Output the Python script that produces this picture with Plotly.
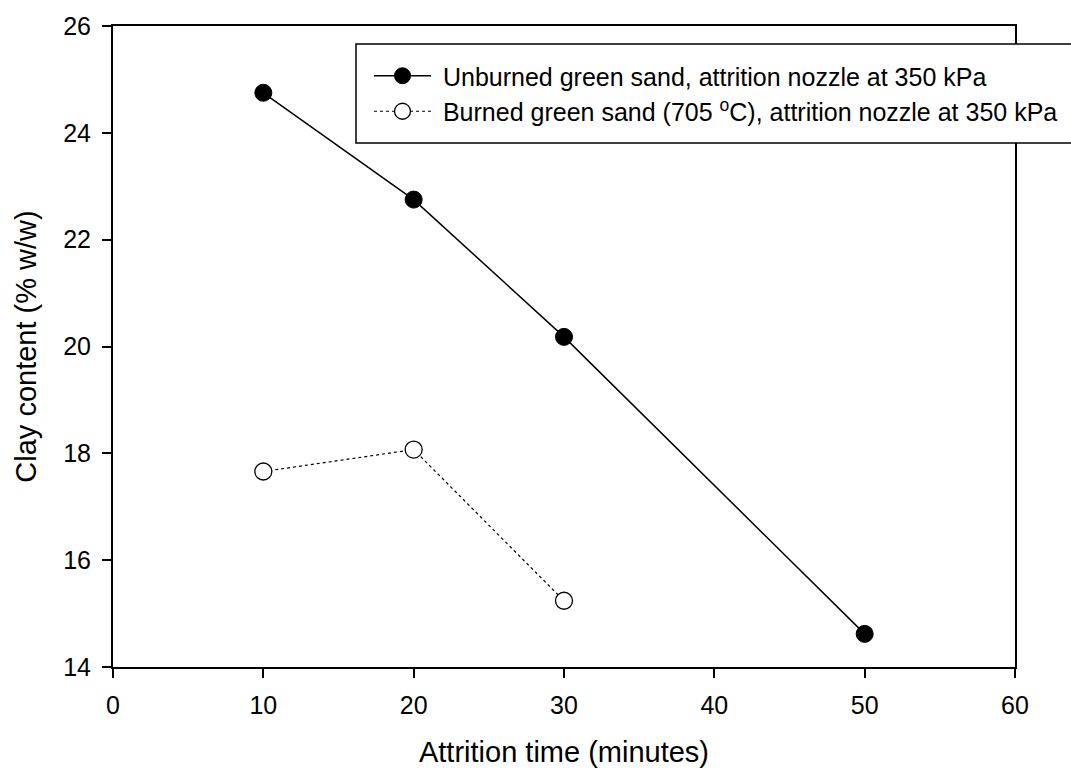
import plotly.graph_objects as go

time_unburned = [10, 20, 30, 50]
clay_unburned = [24.75, 22.75, 20.18, 14.62]
time_burned = [10, 20, 30]
clay_burned = [17.66, 18.07, 15.24]

name_unburned = "\u00a0Unburned green sand, attrition nozzle at 350 kPa"
name_burned = "\u00a0Burned green sand (705 <sup>o</sup>C), attrition nozzle at 350 kPa"

x_ticks = [0, 10, 20, 30, 40, 50, 60]
y_ticks = [14, 16, 18, 20, 22, 24, 26]

FONT = "Liberation Sans, Arial, sans-serif"

fig = go.Figure()
fig.add_trace(go.Scatter(
    x=time_unburned, y=clay_unburned, mode="lines+markers", name=name_unburned,
    line=dict(color="black", width=1.5),
    marker=dict(symbol="circle", size=17, color="black", line=dict(color="black", width=1)),
))
fig.add_trace(go.Scatter(
    x=time_burned, y=clay_burned, mode="lines+markers", name=name_burned,
    line=dict(color="black", width=1.2, dash="dot"),
    marker=dict(symbol="circle", size=17, color="white", line=dict(color="black", width=1.3)),
))

axis_common = dict(
    showgrid=False, zeroline=False, showline=True, linecolor="black", linewidth=2,
    mirror=True, ticks="outside", ticklen=9, tickwidth=1.5, tickcolor="black",
    ticklabelstandoff=6, automargin=False,
    tickfont=dict(family=FONT, size=25, color="black"),
)
fig.update_xaxes(range=[0, 60], tickvals=x_ticks, **axis_common,
                 title=dict(text="Attrition time (minutes)", standoff=24,
                            font=dict(family=FONT, size=29, color="black")))
fig.update_yaxes(range=[14, 26], tickvals=y_ticks, **axis_common,
                 title=dict(text="Clay content (% w/w)", standoff=18,
                            font=dict(family=FONT, size=29, color="black")))

# legend frame (extends past the right edge of the page, as in the original)
fig.add_shape(type="rect", xref="paper", yref="paper",
              x0=(356 - 113) / 902, x1=1.2, y0=(667 - 143) / 641, y1=(667 - 44) / 641,
              line=dict(color="black", width=1.5), fillcolor="white", layer="above")

fig.update_layout(
    width=1071, height=771,
    margin=dict(l=113, r=56, t=26, b=104, autoexpand=False),
    paper_bgcolor="white", plot_bgcolor="white",
    showlegend=True,
    legend=dict(x=(369 - 113) / 902, y=(667 - 53) / 641, xanchor="left", yanchor="top",
                bgcolor="rgba(0,0,0,0)", borderwidth=0,
                font=dict(family=FONT, size=25, color="black"),
                itemwidth=57),
)

fig.write_html("out.html")
